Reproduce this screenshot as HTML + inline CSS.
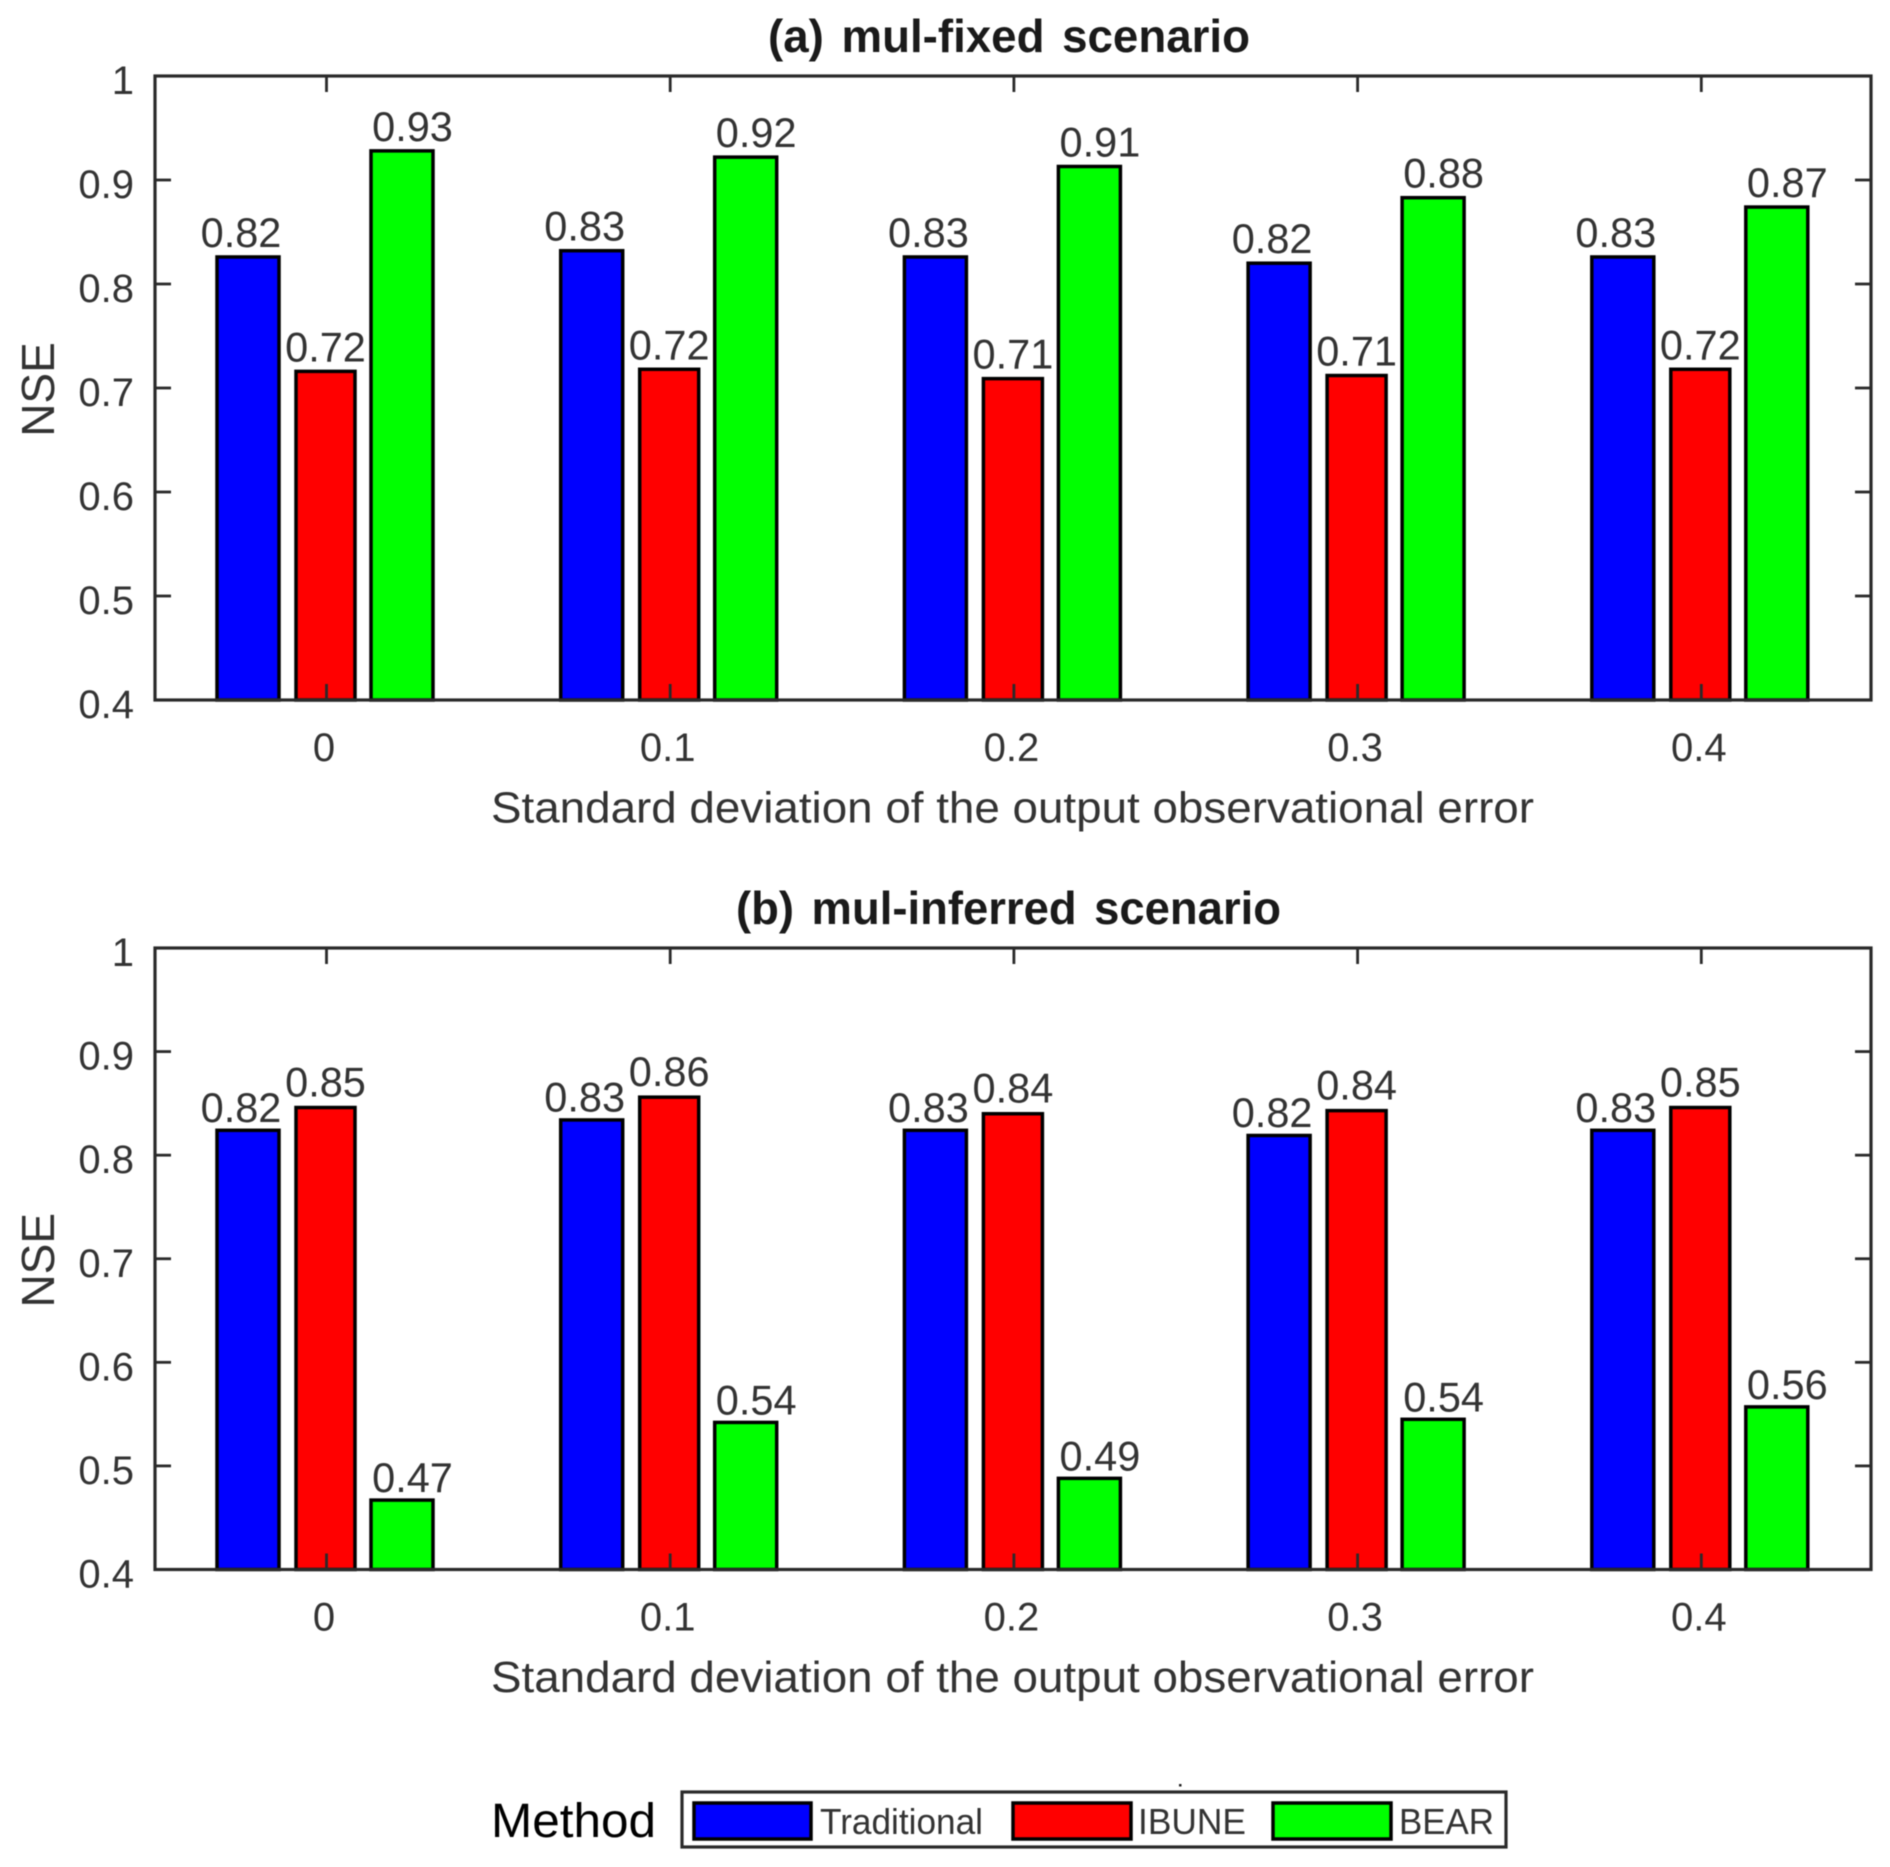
<!DOCTYPE html>
<html lang="en">
<head>
<meta charset="utf-8">
<title>NSE by method and scenario</title>
<style>
html,body{margin:0;padding:0;background:#fff;width:1890px;height:1867px;overflow:hidden}
svg{display:block;filter:blur(0.6px)}
text{font-family:"Liberation Sans",sans-serif;fill:#333}
</style>
</head>
<body>
<svg id="figure" xmlns="http://www.w3.org/2000/svg" width="1890" height="1867" viewBox="0 0 1890 1867">
  <rect x="0" y="0" width="1890" height="1867" fill="#fff"/>
  <g id="panel-a"></g>
  <g id="panel-b"></g>

  <text x="491" y="1837" font-size="48" style="fill:#000" textLength="165" lengthAdjust="spacingAndGlyphs">Method</text>
  <g>
    <rect x="682" y="1792" width="824" height="55" fill="#fff" stroke="#2a2a2a" stroke-width="3.2"/>
    <rect x="1179" y="1784" width="2.5" height="2.5" fill="#222"/>
    <g>
      <rect x="694" y="1803" width="117" height="36" fill="#0000ff" stroke="#000" stroke-width="3.5"/>
      <text x="820" y="1834" font-size="36" textLength="163" lengthAdjust="spacingAndGlyphs">Traditional</text>
    </g>
    <g>
      <rect x="1013" y="1803" width="118" height="36" fill="#ff0000" stroke="#000" stroke-width="3.5"/>
      <text x="1138" y="1834" font-size="36" textLength="108" lengthAdjust="spacingAndGlyphs">IBUNE</text>
    </g>
    <g>
      <rect x="1273" y="1803" width="118" height="36" fill="#00ff00" stroke="#000" stroke-width="3.5"/>
      <text x="1399" y="1834" font-size="36" textLength="95" lengthAdjust="spacingAndGlyphs">BEAR</text>
    </g>
  </g>
</svg>
<script>
// Shared axis data
const categories = ["0", "0.1", "0.2", "0.3", "0.4"];
const yTicks = [0.4, 0.5, 0.6, 0.7, 0.8, 0.9, 1];
const yTickLabels = ["0.4", "0.5", "0.6", "0.7", "0.8", "0.9", "1"];
const seriesNames = ["traditional", "ibune", "bear"];

// (a) mul-fixed scenario
const fixedTraditional = [0.826, 0.832, 0.826, 0.820, 0.826];
const fixedIbune = [0.716, 0.718, 0.709, 0.712, 0.718];
const fixedBear = [0.928, 0.922, 0.913, 0.883, 0.874];
const fixedTraditionalLabels = ["0.82", "0.83", "0.83", "0.82", "0.83"];
const fixedIbuneLabels = ["0.72", "0.72", "0.71", "0.71", "0.72"];
const fixedBearLabels = ["0.93", "0.92", "0.91", "0.88", "0.87"];

// (b) mul-inferred scenario
const inferredTraditional = [0.824, 0.834, 0.824, 0.819, 0.824];
const inferredIbune = [0.846, 0.856, 0.840, 0.843, 0.846];
const inferredBear = [0.467, 0.542, 0.488, 0.545, 0.557];
const inferredTraditionalLabels = ["0.82", "0.83", "0.83", "0.82", "0.83"];
const inferredIbuneLabels = ["0.85", "0.86", "0.84", "0.84", "0.85"];
const inferredBearLabels = ["0.47", "0.54", "0.49", "0.54", "0.56"];

const SVG_NS = "http://www.w3.org/2000/svg";
const AXIS_LEFT = 155, AXIS_RIGHT = 1871;
const FIRST_TICK = 326.5, TICK_STEP = 343.7;
const Y_MIN = 0.4, Y_MAX = 1;
const SERIES_STYLE = [
  { fill: "#0000ff", offset: -78.5, width: 62, labelOffset: -85.5 },
  { fill: "#ff0000", offset: -1, width: 59, labelOffset: -1 },
  { fill: "#00ff00", offset: 75.5, width: 62, labelOffset: 86 }
];

function xScale(i) { return FIRST_TICK + i * TICK_STEP; }

function el(parent, tag, attrs, content) {
  const node = document.createElementNS(SVG_NS, tag);
  for (const k in attrs) node.setAttribute(k, attrs[k]);
  if (content !== undefined) node.textContent = content;
  parent.appendChild(node);
  return node;
}

function drawPanel(root, cfg) {
  const top = cfg.top, bottom = cfg.bottom;
  const yScale = function (v) { return bottom - (v - Y_MIN) / (Y_MAX - Y_MIN) * (bottom - top); };

  const title = el(root, "text", { x: cfg.titleX, y: top - 24, "font-size": 46, "font-weight": "bold", style: "fill:#1a1a1a;word-spacing:5px", textLength: cfg.titleW, lengthAdjust: "spacingAndGlyphs" }, cfg.title);
  
  

  const plotBg = el(root, "rect", { x: AXIS_LEFT, y: top, width: AXIS_RIGHT - AXIS_LEFT, height: bottom - top, fill: "#fff" });
  
  

  cfg.series.forEach(function (values, s) {
    const st = SERIES_STYLE[s];
    values.forEach(function (v, i) {
      const yTop = yScale(v);
      const bar = el(root, "rect", { x: xScale(i) + st.offset - st.width / 2, y: yTop, width: st.width, height: bottom - yTop, fill: st.fill, stroke: "#000", "stroke-width": 3.5 });
      
      

      const label = el(root, "text", { x: xScale(i) + st.labelOffset, y: yTop - cfg.labelLift[s], "font-size": 41.5, "text-anchor": "middle" }, cfg.labels[s][i]);
      
      
    });
  });

  const frame = el(root, "rect", { x: AXIS_LEFT, y: top, width: AXIS_RIGHT - AXIS_LEFT, height: bottom - top, fill: "none", stroke: "#2a2a2a", "stroke-width": 3.2 });
  
  

  categories.forEach(function (c, i) {
    const x = xScale(i);
    const tickB = el(root, "line", { x1: x, x2: x, y1: bottom, y2: bottom - 16, stroke: "#2a2a2a", "stroke-width": 2.8 });
    
    
    const tickT = el(root, "line", { x1: x, x2: x, y1: top, y2: top + 16, stroke: "#2a2a2a", "stroke-width": 2.8 });
    
    
    const lab = el(root, "text", { x: x - 2.5, y: bottom + 61, "font-size": 40, "text-anchor": "middle" }, c);
    
    
  });

  yTicks.forEach(function (v, i) {
    const y = yScale(v);
    const tickL = el(root, "line", { x1: AXIS_LEFT, x2: AXIS_LEFT + 16, y1: y, y2: y, stroke: "#2a2a2a", "stroke-width": 2.8 });
    
    
    const tickR = el(root, "line", { x1: AXIS_RIGHT, x2: AXIS_RIGHT - 16, y1: y, y2: y, stroke: "#2a2a2a", "stroke-width": 2.8 });
    
    
    const lab = el(root, "text", { x: 134, y: y + 18, "font-size": 40, "text-anchor": "end" }, yTickLabels[i]);
    
    
  });

  const xTitle = el(root, "text", { x: 491, y: bottom + 122.5, "font-size": 44, textLength: 1043, lengthAdjust: "spacingAndGlyphs" }, "Standard deviation of the output observational error");
  
  

  const cy = (top + bottom) / 2 + 1.5;
  const yTitle = el(root, "text", { x: 0, y: 0, "font-size": 46, "text-anchor": "middle", transform: "translate(54 " + cy + ") rotate(-90)" }, "NSE");
  
  
}

drawPanel(document.getElementById("panel-a"), {
  top: 76, bottom: 700,
  title: "(a) mul-fixed scenario", titleX: 768, titleW: 482,
  labelLift: [10, 10, 10],
  series: [fixedTraditional, fixedIbune, fixedBear],
  labels: [fixedTraditionalLabels, fixedIbuneLabels, fixedBearLabels]
});
drawPanel(document.getElementById("panel-b"), {
  top: 948, bottom: 1569.5,
  title: "(b) mul-inferred scenario", titleX: 736, titleW: 545,
  labelLift: [8.5, 11, 8],
  series: [inferredTraditional, inferredIbune, inferredBear],
  labels: [inferredTraditionalLabels, inferredIbuneLabels, inferredBearLabels]
});
</script>
</body>
</html>
